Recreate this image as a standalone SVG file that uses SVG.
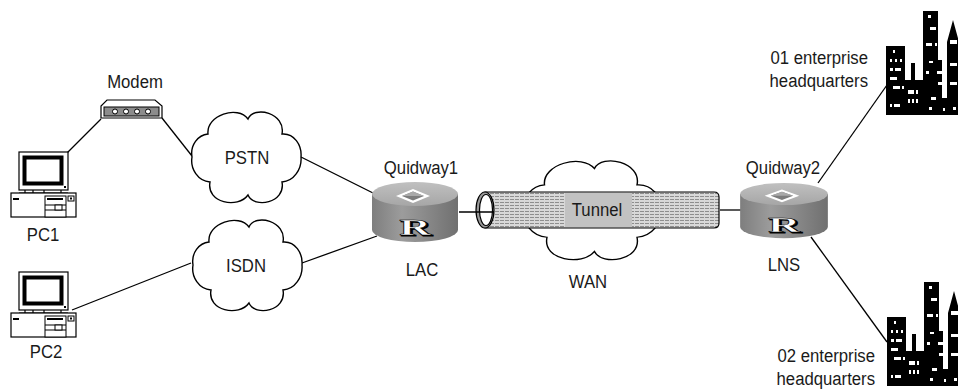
<svg xmlns="http://www.w3.org/2000/svg" xmlns:xlink="http://www.w3.org/1999/xlink" width="958" height="389" viewBox="0 0 958 389">
  <style>
    .lbl { font-family: "Liberation Sans", Arial, sans-serif; font-size: 19px; fill: #1a1a1a; }
    .mid { text-anchor: middle; }
    .end { text-anchor: end; }
    .wire { stroke: #000; stroke-width: 1.3; fill: none; }
    .cloud { fill: #fff; stroke: #000; stroke-width: 1.4; }
    .ol { stroke: #000; stroke-width: 1.2; }
    .rlogo { font-family: "Liberation Serif", "Times New Roman", serif; font-weight: bold; font-size: 23px; text-anchor: middle; }
  </style>
  <defs>
    <linearGradient id="sideGrad" x1="0" y1="0" x2="1" y2="0">
      <stop offset="0" stop-color="#7e7e7e"/>
      <stop offset="0.35" stop-color="#9c9c9c"/>
      <stop offset="1" stop-color="#707070"/>
    </linearGradient>
    <linearGradient id="topGrad" x1="0" y1="0" x2="0" y2="1">
      <stop offset="0" stop-color="#c0c0c0"/>
      <stop offset="1" stop-color="#a6a6a6"/>
    </linearGradient>
    <pattern id="hatch" width="5" height="3" patternUnits="userSpaceOnUse">
      <rect width="5" height="3" fill="#d8d8d8"/>
      <line x1="0" y1="1.5" x2="4" y2="1.5" stroke="#8e8e8e" stroke-width="1"/>
    </pattern>
    <!-- cloud outline, centred on the origin, about 110 x 88 -->
    <path id="cloud" d="M -54,0 C -56,-12 -48,-22 -38,-23 C -40,-42 -8,-52 2,-38 C 8,-52 40,-44 36,-23 C 48,-24 56,-12 55,0 C 56,12 48,24 36,25 C 40,46 8,52 2,38 C -8,52 -40,46 -36,25 C -48,24 -56,12 -54,0 Z"/>
    <!-- desktop computer -->
    <g id="pc">
      <rect x="8" y="1" width="49" height="38" fill="#fff" class="ol"/>
      <rect x="13.5" y="6.5" width="37" height="26" fill="#fff" stroke="#000" stroke-width="4"/>
      <rect x="53" y="35" width="2" height="2" fill="#000"/>
      <line x1="8" y1="42" x2="57" y2="42" class="ol"/>
      <line x1="14" y1="39" x2="14" y2="42" class="ol"/>
      <line x1="22" y1="39" x2="22" y2="42" class="ol"/>
      <line x1="33" y1="39" x2="33" y2="42" class="ol"/>
      <line x1="50" y1="39" x2="50" y2="42" class="ol"/>
      <rect x="0" y="42" width="65" height="24" fill="#fff" class="ol"/>
      <rect x="2" y="47" width="6" height="2" fill="#000"/>
      <rect x="34" y="45" width="21" height="21" fill="#fff" stroke="#000" stroke-width="1"/>
      <rect x="36" y="47" width="16" height="2" fill="#000"/>
      <line x1="34" y1="54" x2="55" y2="54" stroke="#000" stroke-width="1"/>
      <line x1="34" y1="59" x2="55" y2="59" stroke="#000" stroke-width="1"/>
      <rect x="44" y="54" width="7" height="5" fill="#fff" stroke="#000" stroke-width="1"/>
      <rect x="57" y="45" width="6" height="5" fill="#fff" stroke="#000" stroke-width="1"/>
      <rect x="59" y="46.5" width="2" height="2" fill="#000"/>
    </g>
    <!-- router cylinder, centred on x=0, top face at y=0 -->
    <g id="router">
      <path d="M -43,0 L -43,36 A 43,12 0 0 0 43,36 L 43,0 Z" fill="url(#sideGrad)"/>
      <ellipse cx="0" cy="0" rx="43" ry="12" fill="url(#topGrad)"/>
      <polygon points="-19,2 -2,-5 15,2 -2,9" fill="#fff"/>
      <polygon points="-13,2 -2,-2.5 9,2 -2,6.5" fill="#7c7c7c"/>
      <polygon points="-13,2 -2,-2.5 9,2" fill="#a9a9a9"/>
      <text x="0.8" y="42" class="rlogo" fill="#000" stroke="#000" stroke-width="1" transform="scale(1.9,1)">R</text>
      <text x="0" y="41" class="rlogo" fill="#fff" stroke="#000" stroke-width="0.5" transform="scale(1.9,1)">R</text>
    </g>
    <!-- city skyline -->
    <g id="city">
      <rect x="0" y="35" width="19" height="69" fill="#000"/>
      <rect x="19" y="69" width="19" height="35" fill="#000"/>
      <rect x="25" y="52" width="4" height="17" fill="#000"/>
      <rect x="37" y="0" width="15" height="104" fill="#000"/>
      <rect x="52" y="49" width="4" height="55" fill="#000"/>
      <rect x="56" y="87" width="6" height="17" fill="#000"/>
      <polygon points="61,104 61,31 67,9 73,31 80,31 80,104" fill="#000"/>
      <g fill="#fff">
        <rect x="7" y="39" width="2" height="3"/>
        <rect x="4" y="48" width="2" height="3"/>
        <rect x="9" y="48" width="2" height="3"/>
        <rect x="14" y="48" width="2" height="3"/>
        <rect x="4" y="57" width="3" height="3"/>
        <rect x="9" y="57" width="6" height="3"/>
        <rect x="4" y="66" width="7" height="3"/>
        <rect x="7" y="75" width="7" height="3"/>
        <rect x="16" y="75" width="2" height="3"/>
        <rect x="4" y="93" width="2" height="3"/>
        <rect x="8" y="93" width="6" height="3"/>
        <rect x="22" y="79" width="6" height="4"/>
        <rect x="30" y="79" width="2" height="4"/>
        <rect x="22" y="88" width="2" height="4"/>
        <rect x="26" y="88" width="2" height="4"/>
        <rect x="30" y="88" width="2" height="4"/>
        <rect x="42" y="4" width="3" height="3"/>
        <rect x="44" y="16" width="6" height="3"/>
        <rect x="40" y="32" width="6" height="3"/>
        <rect x="49" y="32" width="2" height="3"/>
        <rect x="43" y="50" width="4" height="2"/>
        <rect x="40" y="60" width="3" height="3"/>
        <rect x="51" y="60" width="5" height="3"/>
        <rect x="52" y="71" width="4" height="3"/>
        <rect x="45" y="86" width="5" height="3"/>
        <rect x="43" y="96" width="3" height="3"/>
        <rect x="57" y="97" width="2" height="3"/>
        <rect x="64" y="29" width="7" height="4"/>
        <rect x="64" y="52" width="7" height="3"/>
        <rect x="64" y="71" width="7" height="3"/>
        <rect x="67" y="96" width="3" height="3"/>
      </g>
    </g>
  </defs>

  <!-- connecting lines -->
  <g id="connectors" class="wire">
    <line x1="67" y1="153" x2="101" y2="119"/>
    <line x1="162" y1="118" x2="192" y2="156"/>
    <line x1="301" y1="157" x2="377" y2="195"/>
    <line x1="72" y1="310" x2="191" y2="263"/>
    <line x1="302" y1="263" x2="377" y2="236"/>
    <line x1="720" y1="210" x2="741" y2="210"/>
    <line x1="818" y1="183" x2="887" y2="85"/>
    <line x1="811" y1="237" x2="887" y2="342"/>
  </g>

  <g id="pc1">
    <use xlink:href="#pc" href="#pc" transform="translate(11,151)"/>
    <text transform="translate(43,241) scale(0.88,1)" class="lbl mid">PC1</text>
  </g>

  <g id="pc2">
    <use xlink:href="#pc" href="#pc" transform="translate(11,271)"/>
    <text transform="translate(46,358) scale(0.88,1)" class="lbl mid">PC2</text>
  </g>

  <g id="modem">
    <polygon points="107,100 155,100 162,106 162,118 101,118 101,106" fill="#fff" class="ol"/>
    <rect x="104" y="107" width="55" height="9" fill="#8c8c8c" stroke="#000" stroke-width="1"/>
    <g fill="#fff" stroke="#000" stroke-width="1">
      <circle cx="115" cy="111.5" r="2.5"/>
      <circle cx="126" cy="111.5" r="2.5"/>
      <circle cx="137" cy="111.5" r="2.5"/>
      <circle cx="148" cy="111.5" r="2.5"/>
    </g>
    <text transform="translate(135,88) scale(0.88,1)" class="lbl mid">Modem</text>
  </g>

  <g id="pstn">
    <use xlink:href="#cloud" href="#cloud" class="cloud" transform="translate(246,157)"/>
    <text transform="translate(247,164) scale(0.88,1)" class="lbl mid">PSTN</text>
  </g>

  <g id="isdn">
    <use xlink:href="#cloud" href="#cloud" class="cloud" transform="translate(247,265)"/>
    <text transform="translate(246,272) scale(0.88,1)" class="lbl mid">ISDN</text>
  </g>

  <g id="wan">
    <use xlink:href="#cloud" href="#cloud" class="cloud" transform="translate(592,210) scale(1.25,1.09)" style="stroke-width:1.15"/>
    <text transform="translate(588,288) scale(0.88,1)" class="lbl mid">WAN</text>
  </g>

  <g id="tunnel">
    <path d="M 485,192 L 714,192 Q 719,192 719,197 L 719,223 Q 719,228 714,228 L 485,228 Z" fill="url(#hatch)" class="ol"/>
    <rect x="565" y="193" width="67" height="34" fill="#c2c2c2"/>
    <text transform="translate(597,216) scale(0.88,1)" class="lbl mid">Tunnel</text>
    <ellipse cx="485" cy="210" rx="9" ry="18" fill="#9a9a9a" class="ol"/>
    <ellipse cx="486" cy="210" rx="6.5" ry="15.5" fill="#fff" class="ol"/>
    <line x1="459" y1="212" x2="494" y2="212" class="wire"/>
  </g>

  <g id="quidway1">
    <use xlink:href="#router" href="#router" transform="translate(415,194)"/>
    <text transform="translate(421,174) scale(0.88,1)" class="lbl mid">Quidway1</text>
    <text transform="translate(422,276) scale(0.88,1)" class="lbl mid">LAC</text>
  </g>

  <g id="quidway2">
    <use xlink:href="#router" href="#router" transform="translate(784,194) scale(1.02,0.92)"/>
    <text transform="translate(783,174) scale(0.88,1)" class="lbl mid">Quidway2</text>
    <text transform="translate(784,271) scale(0.88,1)" class="lbl mid">LNS</text>
  </g>

  <g id="hq01">
    <use xlink:href="#city" href="#city" transform="translate(886,11)"/>
    <text transform="translate(868,64) scale(0.88,1)" class="lbl end">01 enterprise</text>
    <text transform="translate(868,87) scale(0.88,1)" class="lbl end">headquarters</text>
  </g>

  <g id="hq02">
    <use xlink:href="#city" href="#city" transform="translate(887,282)"/>
    <text transform="translate(875,362) scale(0.88,1)" class="lbl end">02 enterprise</text>
    <text transform="translate(875,385) scale(0.88,1)" class="lbl end">headquarters</text>
  </g>
</svg>
